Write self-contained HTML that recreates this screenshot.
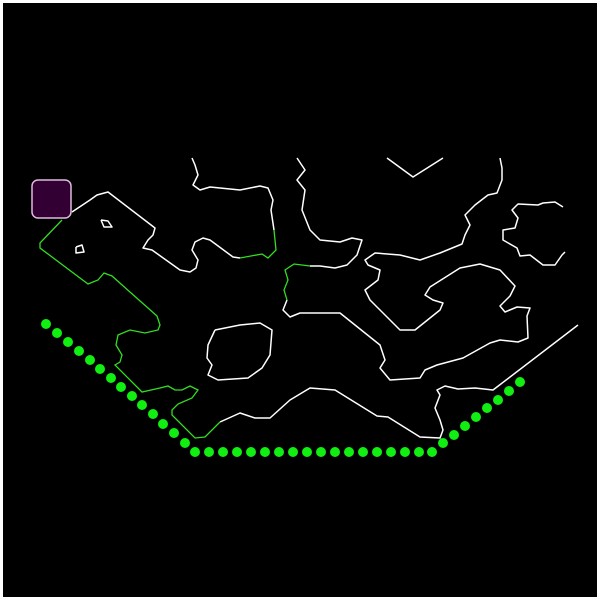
<!DOCTYPE html>
<html><head><meta charset="utf-8"><style>
html,body{margin:0;padding:0;background:#fff;}
svg{display:block;}
</style></head><body>
<svg id="chart" width="600" height="600" viewBox="0 0 600 600" xmlns="http://www.w3.org/2000/svg">
<rect x="3" y="3" width="594" height="594" fill="#000"/>
<g id="walls" fill="none" stroke="#fff" stroke-width="1.5" stroke-linejoin="round"></g>
<g id="path" fill="none" stroke="#33dd22" stroke-width="1.3"></g>
<g id="dots" fill="#11ee11"></g>
<rect x="32" y="180" width="39" height="38" rx="6" fill="#330033" stroke="#ddbbdd" stroke-width="1.5"/>
</svg>
<script>
const dotX = [46,57,68,79,90,100,111,121,132,142,153,163,174,185,
  195,209,223,237,251,265,279,293,307,321,335,349,363,377,391,405,419,432,
  443,454,465,476,487,498,509,520];
const dotY = [324,333,342,351,360,369,378,387,396,405,414,424,433,443,
  452,452,452,452,452,452,452,452,452,452,452,452,452,452,452,452,452,452,
  443,435,426,417,408,400,391,382];

const walls = [
 [[72,212],[90,200],[97,195],[108,192],[155,228],[153,235],[148,240],[143,248],[152,250],[180,270],[190,272],[196,268],[198,260],[192,250],[195,242],[203,238],[210,240],[233,257],[240,258]],
 [[274,230],[271,210],[273,200],[268,188],[260,186],[240,190],[220,188],[210,187],[200,190],[193,185],[198,175],[195,165],[192,158]],
 [[220,422],[240,413],[255,418],[270,418],[290,400],[310,388],[335,390],[377,416],[388,417],[420,437],[440,438],[443,430],[440,420],[435,408],[440,395],[437,390],[445,386],[458,389],[475,388],[493,390],[578,325]],
 [[297,158],[305,170],[297,180],[305,190],[302,210],[310,230],[320,240],[340,242],[352,238],[362,240],[357,255],[347,265],[335,268],[320,266],[310,266]],
 [[287,300],[283,310],[290,317],[300,313],[340,313],[380,345],[385,360],[380,368],[390,380],[420,378],[425,370],[437,365],[463,358],[490,343],[500,340],[518,342],[528,338],[527,316],[530,308],[517,307],[505,312],[500,306],[510,296],[515,286],[500,270],[480,264],[460,268],[430,287],[425,295],[433,300],[443,303],[440,310],[415,330],[400,330],[370,300],[365,290],[378,280],[380,270],[368,265],[365,260],[375,253],[400,255],[420,260],[440,253],[462,244],[465,235],[470,225],[465,215],[475,205],[488,195],[497,193],[502,180],[502,168],[500,158]],
 [[387,158],[413,177],[443,158]],
 [[563,207],[555,202],[543,203],[538,205],[518,204],[512,210],[518,218],[515,228],[503,230],[503,240],[517,248],[520,256],[530,255],[543,265],[555,265],[562,255],[565,252]],
 [[215,330],[240,325],[260,323],[272,330],[270,355],[262,368],[248,378],[218,380],[208,375],[212,365],[207,358],[208,345],[215,330]],
 [[101,220],[108,221],[112,227],[104,227],[101,220]],
 [[76,247],[82,245],[84,252],[76,253],[76,247]]
];
const greens = [
 [[62,220],[40,243],[40,248],[88,284],[98,280],[104,273],[112,276],[157,316],[160,325],[158,330],[145,333],[130,330],[118,335],[116,345],[122,355],[120,362],[115,365],[142,392],[160,388],[168,386],[175,390],[182,390],[190,386],[198,390],[192,398],[178,404],[172,410],[172,415],[195,438],[205,437],[220,422]],
 [[240,258],[262,254],[268,258],[276,250],[274,230]],
 [[310,266],[294,264],[285,270],[288,280],[284,290],[287,300]]
];
const NS="http://www.w3.org/2000/svg";
function pts(a){return a.map(p=>p[0]+","+p[1]).join(" ");}
const wg=document.getElementById("walls");
walls.forEach(w=>{const e=document.createElementNS(NS,"polyline");e.setAttribute("points",pts(w));


wg.appendChild(e);});
const pg=document.getElementById("path");
greens.forEach(w=>{const e=document.createElementNS(NS,"polyline");e.setAttribute("points",pts(w));


pg.appendChild(e);});
const dg=document.getElementById("dots");
dotX.forEach((x,i)=>{const c=document.createElementNS(NS,"circle");c.setAttribute("cx",x);c.setAttribute("cy",dotY[i]);c.setAttribute("r",5);


dg.appendChild(c);});
</script>
</body></html>
